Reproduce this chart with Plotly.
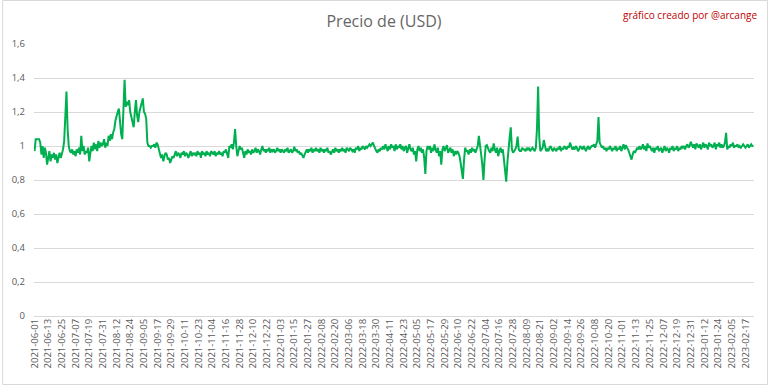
import pandas as pd
import plotly.graph_objects as go

# Dates (daily, two days missing in late Feb 2022)
all_days = pd.date_range("2021-06-01", "2023-02-24", freq="D")
missing = ["2022-02-26", "2022-02-27"]
dates = [d.strftime("%Y-%m-%d") for d in all_days if d.strftime("%Y-%m-%d") not in missing]

price = [
    0.97, 1.04, 1.04, 1.04, 1.04, 1.02, 0.95, 1.0, 0.93, 0.99,
    0.96, 0.89, 0.94, 0.97, 0.91, 0.95, 0.93, 0.96, 0.92, 0.95,
    0.90, 0.94, 0.96, 0.93, 0.95, 0.98, 1.03, 1.18, 1.32, 1.10,
    1.0, 0.97, 0.96, 0.98, 0.95, 0.97, 0.94, 0.98, 0.96, 0.99,
    0.95, 1.06, 0.97, 1.0, 0.95, 0.97, 0.96, 0.99, 0.91, 0.96,
    1.0, 0.97, 1.02, 0.98, 1.01, 0.97, 1.03, 0.99, 1.02, 1.0,
    1.01, 1.04, 0.99, 1.02, 1.0, 1.06, 1.03, 1.07, 1.04, 1.08,
    1.10, 1.15, 1.18, 1.20, 1.22, 1.13, 1.07, 1.04, 1.20, 1.39,
    1.23, 1.26, 1.24, 1.27, 1.20, 1.17, 1.15, 1.11, 1.20, 1.27,
    1.18, 1.14, 1.20, 1.23, 1.25, 1.28, 1.20, 1.19, 1.16, 1.02,
    1.0, 1.0, 0.99, 1.0, 1.0, 1.01, 0.99, 1.02, 1.01, 0.98,
    0.96, 0.93, 0.95, 0.91, 0.94, 0.96, 0.95, 0.92, 0.93, 0.90,
    0.92, 0.94, 0.93, 0.95, 0.97, 0.94, 0.96, 0.95, 0.93, 0.96,
    0.95, 0.97, 0.94, 0.96, 0.95, 0.93, 0.96, 0.97, 0.94, 0.96,
    0.95, 0.96, 0.94, 0.97, 0.95, 0.96, 0.93, 0.97, 0.95, 0.96,
    0.94, 0.97, 0.95, 0.96, 0.94, 0.97, 0.96, 0.95, 0.97, 0.94,
    0.96, 0.95, 0.97, 0.95, 0.96, 0.94, 0.97, 0.96, 0.98, 0.95,
    0.93, 1.0, 0.99, 1.01, 0.98, 1.02, 1.10, 1.0, 0.94, 0.97,
    1.0, 0.98, 0.99, 0.96, 0.93, 0.97, 0.95, 0.98, 0.96, 0.97,
    0.95, 0.98, 0.96, 0.97, 0.99, 0.96, 0.98, 0.97, 0.95, 0.98,
    1.0, 0.97, 0.98, 0.96, 0.98, 0.97, 0.99, 0.96, 0.98, 0.97,
    0.98, 0.96, 0.97, 0.99, 0.97, 0.98, 0.96, 0.98, 0.97, 0.96,
    0.98, 0.97, 0.99, 0.96, 0.97, 0.98, 0.96, 0.97, 0.995, 0.97,
    0.98, 0.96, 0.97, 0.95, 0.96, 0.94, 0.93, 0.95, 0.97, 0.98,
    0.96, 0.98, 0.97, 0.99, 0.96, 0.98, 0.97, 0.99, 0.97, 0.98,
    0.96, 0.99, 0.97, 0.98, 0.96, 0.98, 0.97, 0.99, 0.96, 0.97,
    0.95, 0.97, 0.98, 0.96, 0.99, 0.97, 0.98, 0.96, 0.98, 0.97,
    0.99, 0.97, 0.98, 0.96, 0.99, 0.98, 0.97, 0.99, 0.98, 0.97,
    0.98, 0.96, 0.99, 0.98, 1.0, 0.97, 0.99, 0.98, 1.0, 0.99,
    0.98, 1.0, 0.99, 1.0, 1.01, 1.0, 1.01, 1.02, 1.0, 0.98,
    0.97, 0.96, 0.98, 0.97, 0.99, 0.98, 1.0, 0.98, 1.01, 0.99,
    0.97, 1.0, 0.98, 1.01, 0.99, 1.0, 0.97, 1.01, 0.98, 1.0,
    0.99, 1.01, 0.98, 1.0, 0.97, 0.99, 1.0, 0.96, 0.99, 1.01,
    0.98, 0.97, 0.99, 0.95, 0.97, 0.91, 0.98, 1.0, 0.97, 0.99,
    0.96, 0.98, 0.93, 0.835, 0.97, 1.0, 0.98, 1.0, 0.96, 0.99,
    0.97, 1.01, 0.98, 0.96, 0.99, 0.94, 0.97, 0.89, 0.98, 1.0,
    0.97, 0.99, 1.005, 0.96, 0.98, 0.99, 0.96, 0.98, 0.94, 0.97,
    0.95, 0.97, 0.96, 0.94, 0.90, 0.85, 0.806, 0.92, 0.99, 0.97,
    0.97, 0.95, 0.98, 0.96, 0.99, 0.97, 0.98, 0.96, 0.99, 1.0,
    1.06, 0.98, 0.95, 0.89, 0.80, 0.92, 1.0, 1.005, 0.98, 0.97,
    0.96, 0.99, 0.97, 1.015, 0.98, 0.96, 0.99, 0.94, 0.97, 0.99,
    0.96, 0.98, 0.92, 0.86, 0.79, 0.90, 1.0, 1.05, 1.11, 0.98,
    0.96, 0.97, 0.98, 1.0, 1.055, 0.98, 0.97, 0.97, 0.99, 0.98,
    0.98, 0.97, 0.99, 0.98, 0.99, 0.97, 0.98, 0.99, 0.98, 0.97,
    0.99, 1.10, 1.35, 1.05, 0.97, 0.98, 0.99, 1.035, 1.0, 0.97,
    0.98, 0.97, 0.99, 1.0, 0.98, 0.97, 0.99, 0.98, 0.97, 0.99,
    0.98, 1.0, 0.97, 0.99, 0.98, 1.0, 0.99, 0.98, 1.0, 0.99,
    1.02, 1.0, 0.98, 0.99, 0.98, 1.0, 0.99, 0.97, 0.98, 1.0,
    0.99, 0.98, 1.0, 0.98, 0.97, 0.99, 1.0, 0.98, 0.99, 1.0,
    1.0, 1.01, 0.99, 1.01, 1.03, 1.17, 1.02, 1.005, 0.99, 1.0,
    0.98, 0.99, 0.97, 0.99, 0.98, 1.0, 0.98, 0.97, 0.99, 0.98,
    1.0, 0.97, 0.99, 0.98, 1.0, 0.97, 0.99, 1.01, 0.98, 1.005,
    0.99, 0.98, 0.96, 0.94, 0.92, 0.95, 0.97, 0.96, 0.98, 0.99,
    0.98, 1.0, 0.98, 0.99, 1.01, 0.98, 1.0, 0.97, 1.015, 0.99,
    1.0, 0.98, 0.97, 0.99, 0.96, 0.99, 0.98, 1.0, 0.97, 0.98,
    0.99, 0.96, 0.98, 1.0, 0.97, 0.99, 0.98, 0.96, 0.99, 0.98,
    1.0, 0.97, 0.99, 0.98, 1.0, 0.97, 0.99, 0.98, 1.0, 0.99,
    1.0, 0.98, 1.0, 1.01, 0.99, 1.0, 1.025, 1.0, 0.99, 1.01,
    0.98, 1.015, 1.0, 0.99, 1.01, 0.98, 1.0, 1.02, 0.99, 1.01,
    1.0, 0.98, 1.02, 1.0, 1.01, 0.99, 1.0, 1.02, 0.98, 1.01,
    1.0, 1.02, 0.99, 1.01, 0.99, 1.0, 1.02, 1.077, 0.98, 1.0,
    0.99, 1.01, 1.0, 1.02, 0.99, 1.0, 1.0, 1.01, 0.99, 1.0,
    0.99, 1.0, 1.01, 1.0, 0.99, 1.0, 1.01, 0.99, 1.0, 1.01, 1.0, 1.0,
]

tick_labels = dates[::12]
y_ticks = [0, 0.2, 0.4, 0.6, 0.8, 1.0, 1.2, 1.4, 1.6]

fig = go.Figure()
fig.add_trace(go.Scatter(
    x=dates, y=price, mode="lines",
    line=dict(color="#00B050", width=2),
    hoverinfo="x+y",
))

W, H = 768, 385
ml, mr, mt, mb = 32, 14, 44, 69
pw = W - ml - mr
ph = H - mt - mb

fig.update_layout(
    width=W, height=H,
    margin=dict(l=ml, r=mr, t=mt, b=mb, pad=0),
    paper_bgcolor="white", plot_bgcolor="white",
    separators=",.",
    showlegend=False,
    font=dict(family="Open Sans", color="#595959"),
    title=dict(text="Precio de (USD)", x=0.5, xanchor="center", y=1 - 21 / H, yanchor="middle",
               font=dict(family="Open Sans", size=16, color="#666666")),
    xaxis=dict(
        type="category",
        range=[-0.5, len(dates) - 0.5],
        tickmode="array", tickvals=tick_labels, ticktext=tick_labels,
        tickangle=-90, tickfont=dict(size=9.5, color="#595959"),
        showgrid=False, showline=False, ticks="",
    ),
    yaxis=dict(
        range=[0, 1.6], tickvals=y_ticks,
        tickfont=dict(size=9.5, color="#595959"),
        showgrid=True, gridcolor="#D9D9D9", gridwidth=1,
        zeroline=True, zerolinecolor="#D9D9D9", zerolinewidth=1,
        showline=False, ticks="", ticklabelstandoff=8,
    ),
    annotations=[dict(
        text="gráfico creado por @arcange", xref="paper", yref="paper",
        x=(W - 9 - ml) / pw, y=(H - 15 - mb) / ph, xanchor="right", yanchor="middle",
        showarrow=False, font=dict(family="Open Sans", size=10, color="#C00000"),
    )],
    shapes=[dict(
        type="rect", xref="paper", yref="paper",
        x0=(0.5 - ml) / pw, x1=(W - 0.5 - ml) / pw,
        y0=(0.5 - mb) / ph, y1=(H - 0.5 - mb) / ph,
        line=dict(color="#D9D9D9", width=1), layer="below",
    )],
)

fig.write_html("out.html")
